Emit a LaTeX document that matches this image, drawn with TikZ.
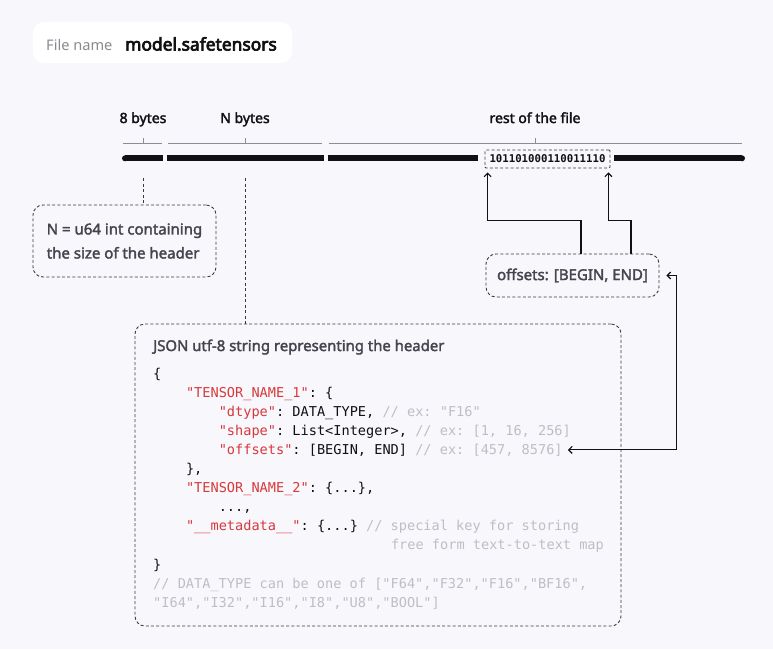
\documentclass[tikz,border=0pt]{standalone}
\usepackage{fontspec}
\setmainfont{Noto Sans}
\setmonofont{DejaVu Sans Mono}
\newfontfamily\medfont[FakeBold=2.2]{Noto Sans}
\newfontfamily\heavyfont[FakeBold=4]{Noto Sans}
\usetikzlibrary{arrows.meta}

\definecolor{paper}{HTML}{F8F7FC}
\definecolor{ink}{HTML}{111114}
\definecolor{boxtxt}{HTML}{45454F}
\definecolor{boxline}{HTML}{3A3A44}
\definecolor{rulec}{HTML}{8C8C96}
\definecolor{keyred}{HTML}{D6393B}
\definecolor{cmtc}{HTML}{BEBEC6}
\definecolor{softgray}{HTML}{8A8A90}

\newcommand\jkey[1]{\textcolor{keyred}{#1}}
\newcommand\jcmt[1]{\textcolor{cmtc}{#1}}

\tikzset{
  dashbox/.style={draw=boxline, dash pattern=on 3pt off 2.2pt, line width=0.9pt,
    rounded corners=10pt, inner sep=0pt},
  toplabel/.style={anchor=base, inner sep=0pt, text=ink,
    font=\medfont\fontsize{14}{16}\selectfont},
  boxtext/.style={text=boxtxt, font=\medfont\fontsize{15}{24}\selectfont},
  codeline/.style={anchor=base west, inner sep=0pt, text=ink,
    font=\ttfamily\fontsize{13.6}{16}\selectfont},
  bar/.style={line width=6pt, ink},
  bracket/.style={rulec, line width=0.6pt},
  lead/.style={boxline, dash pattern=on 3pt off 2.5pt, line width=0.9pt},
  arr/.style={-{Straight Barb[length=3.5pt,width=7pt]}, line width=1.1pt, ink},
}

\begin{document}
\begin{tikzpicture}[x=1pt,y=-1pt]
\fill[paper] (0,0) rectangle (773,649);
\useasboundingbox (0,0) rectangle (773,649);

% file name
\node[fill=white, rounded corners=11pt, minimum width=259, minimum height=41] (fbox) at (162.5,42.5) {};
\node[anchor=base west, inner sep=0pt, text=softgray, font=\fontsize{14.6}{18}\selectfont] (fnlabel) at (46,50) {File name};
\node[anchor=base west, inner sep=0pt, text=ink, font=\heavyfont\fontsize{17.4}{18}\selectfont] (fname) at (125,50.5) {model.safetensors};

% byte ranges
\node[toplabel] (lab8) at (143,123) {8 bytes};
\node[toplabel] (labN) at (245,123) {N bytes};
\node[toplabel] (labrest) at (535,123) {rest of the file};

\draw[bracket] (123,143) -- (162,143) (143,143) -- (143,137.5);
\draw[bracket] (168,143) -- (322,143) (245,143) -- (245,137.5);
\draw[bracket] (329,143) -- (742,143) (535,143) -- (535,137.5);

% the file
\fill[ink] (125,158.3) circle (3);
\draw[bar] (125,158.3) -- (163,158.3);
\draw[bar] (166.5,158.3) -- (324,158.3);
\draw[bar] (327.5,158.3) -- (478,158.3);
\draw[bar] (614,158.3) -- (742,158.3);
\fill[ink] (742,158.3) circle (3);

\node[dashbox, rounded corners=1pt, minimum width=125, minimum height=18] (bits) at (547.5,159) {};
\node[anchor=base, inner sep=0pt, text=ink, font=\ttfamily\bfseries\fontsize{10.7}{12}\selectfont] (bitstext) at (547.5,162) {101101000110011110};

% size of the header
\coordinate (n8) at (143,178);
\node[dashbox, minimum width=183, minimum height=72, align=left, boxtext] (nbox) at (124.5,241) {N = u64 int containing\\the size of the header};
\draw[lead] (n8) -- (n8 |- nbox.north);

% offsets
\node[dashbox, minimum width=173, minimum height=43, boxtext] (offs) at (572.5,275.5) {offsets: [BEGIN, END]};
\draw[arr] ([xshift=8.5pt]offs.north) -- ++(0,-33) -| ([xshift=3pt,yshift=-4pt]bits.south west);
\draw[arr] ([xshift=58.5pt]offs.north) -- ++(0,-33) -| ([xshift=-2pt,yshift=-4pt]bits.south east);

% header
\coordinate (nN) at (245,178);
\node[dashbox, minimum width=486, minimum height=302] (json) at (378,475) {};
\draw[lead] (nN) -- (nN |- json.north);

\node[anchor=base west, inner sep=0pt, text=boxtxt, font=\medfont\fontsize{14.9}{16}\selectfont] (jtitle) at (153,351) {JSON utf-8 string representing the header};

\node[codeline] (c1) at (153,378) {\{};
\node[codeline] (c2) at (185.8,397.1) {\jkey{"TENSOR\_NAME\_1"}: \{};
\node[codeline] (c3) at (218.6,416.2) {\jkey{"dtype"}: DATA\_TYPE, \jcmt{// ex: "F16"}};
\node[codeline] (c4) at (218.6,435.3) {\jkey{"shape"}: List<Integer>, \jcmt{// ex: [1, 16, 256]}};
\node[codeline] (c5) at (218.6,454.4) {\jkey{"offsets"}: [BEGIN, END] \jcmt{// ex: [457, 8576]}};
\node[codeline] (c6) at (185.8,473.5) {\},};
\node[codeline] (c7) at (185.8,492.6) {\jkey{"TENSOR\_NAME\_2"}: \{...\},};
\node[codeline] (c8) at (218.6,511.7) {...,};
\node[codeline] (c9) at (185.8,530.8) {\jkey{"\_\_metadata\_\_"}: \{...\} \jcmt{// special key for storing}};
\node[codeline] (c10) at (390.8,549.9) {\jcmt{free form text-to-text map}};
\node[codeline] (c11) at (153,569) {\}};
\node[codeline] (c12) at (153,588.1) {\jcmt{// DATA\_TYPE can be one of ["F64","F32","F16","BF16",}};
\node[codeline] (c13) at (153,607.2) {\jcmt{"I64","I32","I16","I8","U8","BOOL"]}};

\draw[arr, {Straight Barb[length=3.5pt,width=7pt]}-{Straight Barb[length=3.5pt,width=7pt]}] ([xshift=5pt,yshift=4.5pt]c5.base east) -| ([xshift=17pt]offs.east) -- ([xshift=7pt]offs.east);
\end{tikzpicture}
\end{document}
